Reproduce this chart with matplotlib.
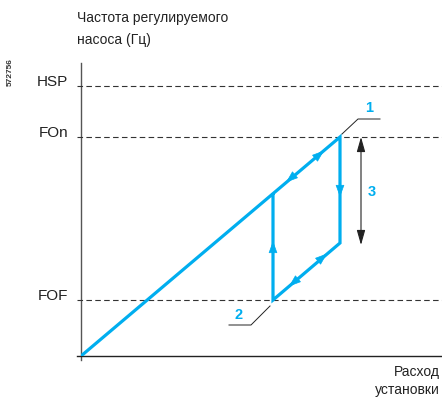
import matplotlib
matplotlib.use("Agg")
import matplotlib.pyplot as plt

# уровни частоты (условные единицы) и точки цикла насоса
level_names = ["HSP", "FOn", "FOF"]
level_values = [270, 219, 56]

path_x = [0, 259, 259, 192, 192]
path_y = [0, 219, 113, 56, 163]

# стрелки направления на синей линии: (x, y, dx, dy)
arrows = [
    (239, 202, 1, 0.845),
    (209, 177, -1, -0.845),
    (259, 163, 0, -1),
    (242, 99, 1, 0.85),
    (212, 73, -1, -0.85),
    (192, 111, 0, 1),
]

blue = "#00AEEF"
font = ["Liberation Sans", "DejaVu Sans"]

fig = plt.figure(figsize=(4.42, 3.99), dpi=100)
ax = fig.add_axes([81 / 442, 43 / 399, 361 / 442, 293 / 399])
ax.set_xlim(0, 361)
ax.set_ylim(0, 293)
ax.axis("off")

# оси
ax.plot([0, 0], [-4, 293], color="#555555", lw=1.0, clip_on=False)
ax.plot([-4, 361], [0, 0], color="#222222", lw=1.0, clip_on=False)

# пунктирные уровни
for name, val in zip(level_names, level_values):
    ax.plot([-4, 361], [val, val], color="#333333", lw=0.8,
            dashes=(5, 3), clip_on=False)
    ax.text(-13, val + 4, name, ha="right", va="center", fontsize=11,
            family=font, color="#222222")

# цикл работы насоса
ax.plot(path_x, path_y, color=blue, lw=2.3, solid_joinstyle="miter",
        solid_capstyle="butt")
for x, y, dx, dy in arrows:
    k = 4
    ax.annotate("", xy=(x + dx * k, y + dy * k), xytext=(x - dx * k, y - dy * k),
                arrowprops=dict(arrowstyle="-|>,head_length=0.55,head_width=0.2",
                                color=blue, lw=0.5, mutation_scale=14,
                                shrinkA=0, shrinkB=0))

# двойная стрелка диапазона
ax.annotate("", xy=(280, 219), xytext=(280, 111),
            arrowprops=dict(arrowstyle="<|-|>,head_length=0.6,head_width=0.17",
                            color="#222222", lw=0.8, mutation_scale=15,
                            shrinkA=0, shrinkB=0))
ax.text(291, 164, "3", color=blue, fontsize=10.5, fontweight="bold",
        family=font, ha="center", va="center")

# выноски 1 и 2
ax.plot([261, 277, 299], [222, 237, 237], color="#222222", lw=0.7)
ax.text(288, 248, "1", color=blue, fontsize=10.5, fontweight="bold",
        family=font, ha="center", va="center")
ax.plot([189, 170, 148], [50, 31, 31], color="#222222", lw=0.7,
        clip_on=False)
ax.text(158, 41, "2", color=blue, fontsize=10.5, fontweight="bold",
        family=font, ha="center", va="center")

# подписи
fig.text(77 / 442, 1 - 29 / 399, "Частота регулируемого\nнасоса (Гц)",
         ha="left", va="center", fontsize=10, family=font,
         color="#222222", linespacing=1.75)
fig.text(440 / 442, 1 - 381 / 399, "Расход\nустановки", ha="right",
         va="center", fontsize=10, family=font, color="#222222",
         linespacing=1.3)
fig.text(10 / 442, 1 - 72 / 399, "572756", rotation=90, ha="center",
         va="center", fontsize=6, family=font, fontweight="bold",
         color="#333333")

fig.savefig("out.png", dpi=100)
